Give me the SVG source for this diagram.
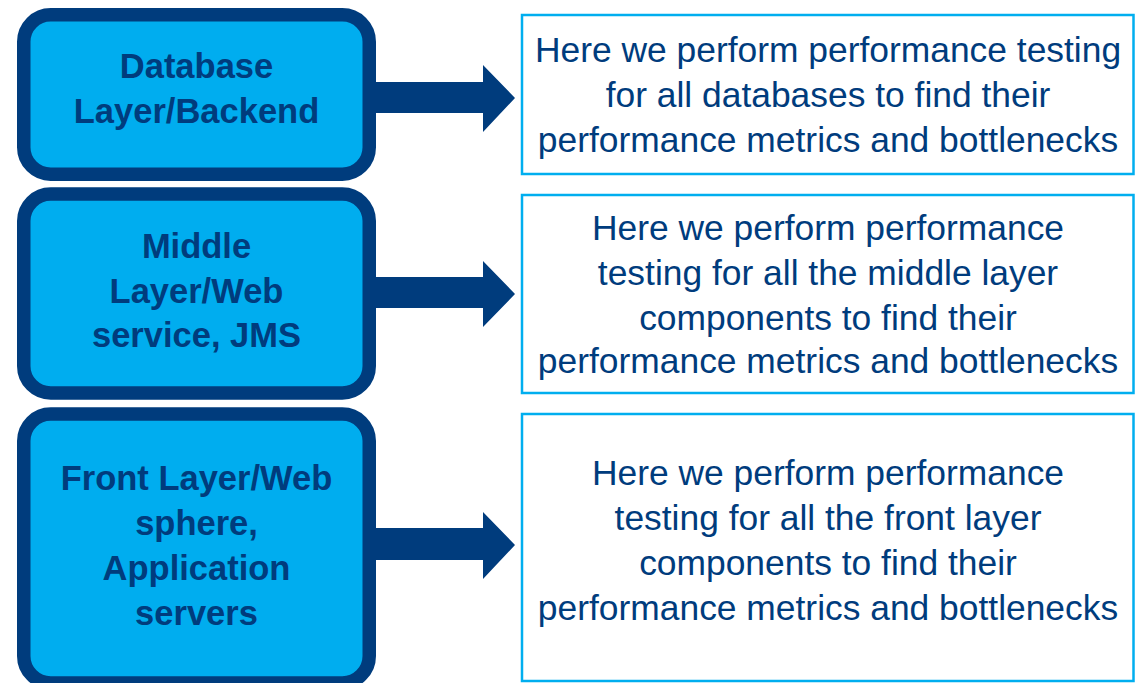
<svg xmlns="http://www.w3.org/2000/svg" width="1139" height="683" viewBox="0 0 1139 683">
<style>
.layer{fill:#00adef;stroke:#003c7d;stroke-width:13.5}
.desc{fill:#ffffff;stroke:#00aeef;stroke-width:2.5}
.lt{font-family:"Liberation Sans",Arial,sans-serif;font-weight:bold;font-size:34.5px;fill:#003c7d;text-anchor:middle}
.rt{font-family:"Liberation Sans",Arial,sans-serif;font-size:35.4px;fill:#003c7d;text-anchor:middle}
.arrow{fill:#003c7d}
</style>
<rect width="1139" height="683" fill="#ffffff"/>
<g id="connectors">
<polygon class="arrow" points="370,82 483,82 483,65 515,98 483,132 483,113 370,113"/>
<polygon class="arrow" points="370,277 483,277 483,261 515,294 483,327 483,308 370,308"/>
<polygon class="arrow" points="370,528 483,528 483,512 515,545 483,579 483,560 370,560"/>
</g>
<g id="node-database">
<rect class="layer" x="23.75" y="14.75" width="345.5" height="159.5" rx="27"/>
<text class="lt" x="196.5" y="78">Database</text>
<text class="lt" x="196.5" y="123">Layer/Backend</text>
</g>
<g id="node-middle">
<rect class="layer" x="23.75" y="194" width="345.5" height="199" rx="27"/>
<text class="lt" x="196.5" y="258">Middle</text>
<text class="lt" x="196.5" y="303">Layer/Web</text>
<text class="lt" x="196.5" y="347">service, JMS</text>
</g>
<g id="node-front">
<rect class="layer" x="23.75" y="414" width="345.5" height="269" rx="27"/>
<text class="lt" x="196.5" y="490">Front Layer/Web</text>
<text class="lt" x="196.5" y="535">sphere,</text>
<text class="lt" x="196.5" y="580">Application</text>
<text class="lt" x="196.5" y="625">servers</text>
</g>
<g id="desc-database">
<rect class="desc" x="522" y="15" width="611.5" height="159"/>
<text class="rt" x="828" y="62">Here we perform performance testing</text>
<text class="rt" x="828" y="107">for all databases to find their</text>
<text class="rt" x="828" y="152">performance metrics and bottlenecks</text>
</g>
<g id="desc-middle">
<rect class="desc" x="522" y="195" width="611.5" height="198"/>
<text class="rt" x="828" y="240">Here we perform performance</text>
<text class="rt" x="828" y="285">testing for all the middle layer</text>
<text class="rt" x="828" y="330">components to find their</text>
<text class="rt" x="828" y="373">performance metrics and bottlenecks</text>
</g>
<g id="desc-front">
<rect class="desc" x="522" y="414" width="611.5" height="267"/>
<text class="rt" x="828" y="485">Here we perform performance</text>
<text class="rt" x="828" y="530">testing for all the front layer</text>
<text class="rt" x="828" y="575">components to find their</text>
<text class="rt" x="828" y="620">performance metrics and bottlenecks</text>
</g>
</svg>
